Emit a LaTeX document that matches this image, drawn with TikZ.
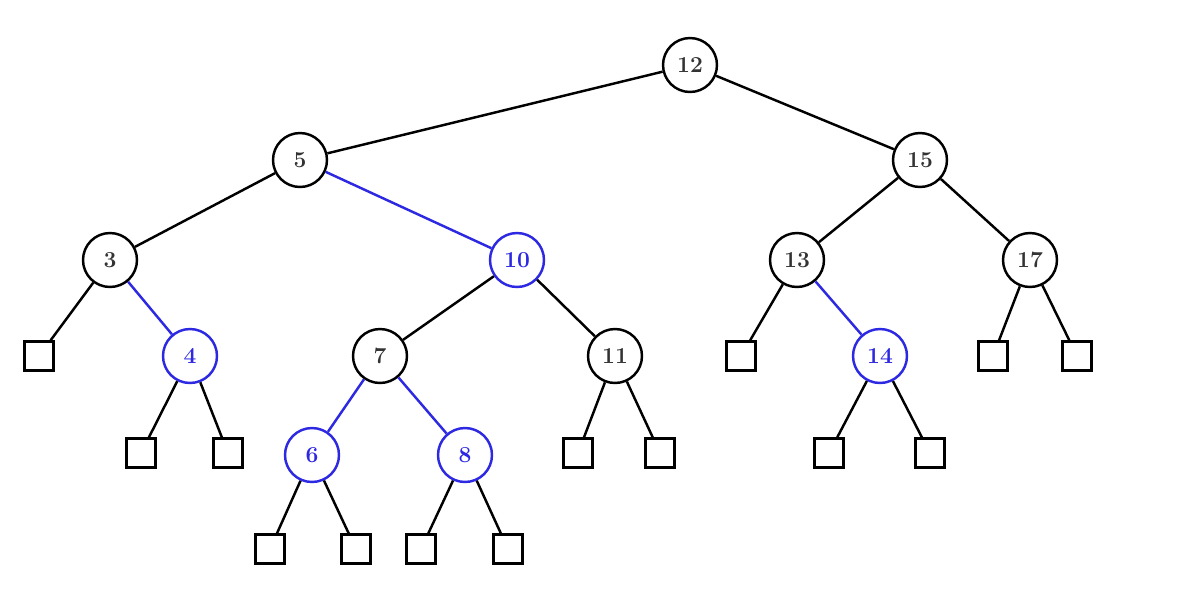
\documentclass[tikz,border=0pt]{standalone}
\definecolor{redblue}{RGB}{45,40,225}
\begin{document}
\begin{tikzpicture}[
x=0.02cm,y=-0.02cm,
line width=1.4pt,
inner/.style={circle,draw,minimum size=10.8mm,inner sep=0pt,font=\bfseries\fontsize{13}{15}\selectfont,text=black!80},
red/.style={inner,draw=redblue,text=redblue},
leaf/.style={rectangle,draw,minimum size=5.8mm,inner sep=0pt}
]
\useasboundingbox (0,0) rectangle (1180,600);
\node[inner](n12) at (690,65){12};
\node[inner](n5) at (300,160){5};
\node[inner](n15) at (920,160){15};
\node[inner](n3) at (110,260){3};
\node[red](n10) at (517,260){10};
\node[inner](n13) at (797,260){13};
\node[inner](n17) at (1030,260){17};
\node[leaf](l1) at (39,356){};
\node[red](n4) at (190,356){4};
\node[inner](n7) at (380,356){7};
\node[inner](n11) at (615,356){11};
\node[leaf](l2) at (741,356){};
\node[red](n14) at (880,356){14};
\node[leaf](l3) at (993,356){};
\node[leaf](l4) at (1077,356){};
\node[leaf](l5) at (141,453){};
\node[leaf](l6) at (228,453){};
\node[red](n6) at (312,455){6};
\node[red](n8) at (465,455){8};
\node[leaf](l7) at (578,453){};
\node[leaf](l8) at (660,453){};
\node[leaf](l9) at (829,453){};
\node[leaf](l10) at (930,453){};
\node[leaf](l11) at (270,549){};
\node[leaf](l12) at (356,549){};
\node[leaf](l13) at (421,549){};
\node[leaf](l14) at (508,549){};
\foreach \a/\b in {n12/n5,n12/n15,n5/n3,n15/n13,n15/n17,n3/l1,n10/n7,n10/n11,
	n13/l2,n17/l3,n17/l4,n4/l5,n4/l6,n11/l7,n11/l8,n14/l9,n14/l10,
	n6/l11,n6/l12,n8/l13,n8/l14}
	\draw (\a) -- (\b);
\foreach \a/\b in {n5/n10,n3/n4,n13/n14,n7/n6,n7/n8}
	\draw[redblue] (\a) -- (\b);
\end{tikzpicture}
\end{document}
